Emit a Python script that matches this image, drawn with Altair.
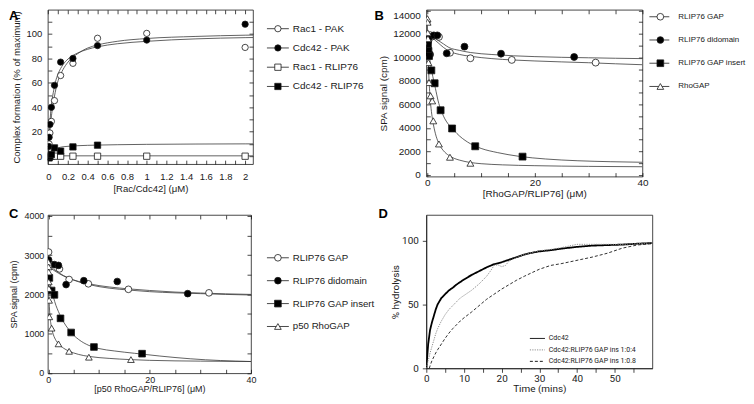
import altair as alt
import pandas as pd

FONT = "Liberation Sans"
DFONT = "Roboto"
INK = "#1a1a1a"
CURVE = "#3a3a3a"

# ---------------- Panel A : complex formation ----------------
A_series = ["Rac1 - PAK", "Cdc42 - PAK", "Rac1 - RLIP76", "Cdc42 - RLIP76"]
A_rac1_pak_x = [0.008, 0.016, 0.031, 0.0625, 0.125, 0.25, 0.5, 1, 2]
A_rac1_pak_y = [10, 19, 28.5, 45.5, 66, 76, 96.5, 100.5, 89]
A_cdc42_pak_x = [0.004, 0.008, 0.016, 0.031, 0.0625, 0.125, 0.25, 0.5, 1, 2]
A_cdc42_pak_y = [8, 15.5, 26, 40, 58, 77, 80, 90.5, 95, 108]
A_rac1_rlip_x = [0.004, 0.008, 0.016, 0.031, 0.0625, 0.125, 0.25, 0.5, 1, 2]
A_rac1_rlip_y = [0, 0, 0, 0, 0, 0, 0, 0, 0, 0]
A_cdc42_rlip_x = [0.004, 0.008, 0.016, 0.031, 0.0625, 0.125, 0.25, 0.5]
A_cdc42_rlip_y = [-1, -1.4, 0, 1.4, 6.8, 4.1, 7.6, 9]

A_fit_x = [0, 0.01, 0.02, 0.04, 0.06, 0.08, 0.1, 0.15, 0.2, 0.3, 0.4, 0.5, 0.7, 1, 1.5, 2, 2.08]
A_fit_rac1_pak = [0, 13, 24, 38, 48, 56, 62, 71, 77, 84, 88.5, 91, 94, 96.3, 98, 99, 99.1]
A_fit_cdc42_pak = [0, 19, 32, 47, 56, 63, 67.5, 75, 79.5, 84.5, 87.5, 89.5, 92, 94, 96, 97, 97.1]
A_fit_cdc42_rlip = [0, 1.5, 2.8, 4.6, 5.7, 6.4, 6.9, 7.7, 8.1, 8.6, 8.9, 9.1, 9.4, 9.7, 9.95, 10.1, 10.1]
A_fit_rac1_rlip_x = [0, 2.08]
A_fit_rac1_rlip = [0.3, 0.3]

A_xticks = [0, 0.1, 0.2, 0.3, 0.4, 0.5, 0.6, 0.7, 0.8, 0.9, 1.0, 1.1, 1.2, 1.3, 1.4, 1.5, 1.6, 1.7, 1.8, 1.9, 2.0]
A_yticks = [0, 10, 20, 30, 40, 50, 60, 70, 80, 90, 100, 110]

# ---------------- Panel B : SPA, RhoGAP / RLIP76 ----------------
B_series = ["RLIP76 GAP", "RLIP76 didomain", "RLIP76 GAP insert", "RhoGAP"]
B_gap_x = [0.1, 0.25, 0.5, 1.0, 2.15, 4.2, 8.0, 15.7, 31.3]
B_gap_y = [11300, 11500, 11900, 11800, 11750, 10400, 9930, 9790, 9560]
B_di_x = [0.1, 0.3, 0.5, 1.2, 1.85, 3.6, 6.9, 13.7, 27.3]
B_di_y = [10400, 11700, 10250, 11880, 11880, 10350, 10920, 10320, 10040]
B_ins_x = [0.1, 0.2, 0.3, 0.74, 1.35, 2.46, 4.6, 8.9, 17.7]
B_ins_y = [11100, 10550, 10120, 8900, 7800, 5500, 3950, 2430, 1550]
B_rho_x = [0.02, 0.04, 0.06, 0.1, 0.2, 0.3, 0.6, 0.9, 1.1, 2.15, 4.2, 8.0]
B_rho_y = [13300, 13000, 12100, 11600, 9560, 7860, 6730, 6300, 4600, 2630, 1500, 990]

B_fit_x = [0, 0.5, 1, 2, 3, 4, 6, 8, 12, 16, 20, 25, 30, 35, 40]
B_fit_gap = [12100, 11900, 11650, 11250, 10850, 10550, 10250, 10100, 9900, 9780, 9700, 9620, 9550, 9460, 9380]
B_fit_di = [12000, 11900, 11750, 11450, 11150, 10850, 10600, 10420, 10250, 10140, 10070, 10010, 9970, 9930, 9900]
B_fit_ins_x = [0, 0.25, 0.5, 1, 1.5, 2, 3, 4, 5, 6, 8, 10, 13, 17, 22, 28, 34, 40]
B_fit_ins = [11600, 10500, 9700, 8400, 7350, 6300, 5000, 4250, 3750, 3300, 2650, 2250, 1900, 1580, 1350, 1200, 1120, 1070]
B_fit_rho_x = [0, 0.1, 0.2, 0.35, 0.5, 0.75, 1, 1.5, 2, 3, 4, 5, 6, 8, 10, 14, 20, 30, 40]
B_fit_rho = [13000, 10800, 9300, 7700, 6600, 5400, 4600, 3500, 2800, 2050, 1650, 1400, 1250, 1050, 950, 850, 780, 720, 690]

B_xticks = [0, 5, 10, 15, 20, 25, 30, 35, 40]
B_yticks = [0, 1000, 2000, 3000, 4000, 5000, 6000, 7000, 8000, 9000, 10000, 11000, 12000, 13000, 14000]

# ---------------- Panel C : SPA, p50 RhoGAP / RLIP76 ----------------
C_series = ["RLIP76 GAP", "RLIP76 didomain", "RLIP76 GAP insert", "p50 RhoGAP"]
C_gap_x = [0.05, 0.5, 2.2, 4.1, 7.9, 15.8, 31.7]
C_gap_y = [3080, 2770, 2650, 2380, 2270, 2130, 2040]
C_di_x = [0.05, 1.2, 2.0, 3.5, 7.0, 13.6, 27.5]
C_di_y = [2880, 2760, 2740, 2250, 2350, 2330, 2020]
C_ins_x = [0.2, 0.65, 1.2, 2.4, 4.5, 9.0, 18.5]
C_ins_y = [2420, 2100, 1990, 1390, 1030, 660, 490]
C_rho_x = [0.02, 0.04, 0.06, 0.08, 0.1, 0.15, 0.2, 0.65, 2.0, 4.1, 8.0, 16.3]
C_rho_y = [2820, 2700, 2570, 2320, 2150, 1850, 1430, 1140, 740, 550, 400, 340]

C_fit_x = [0, 0.5, 1, 2, 3, 4, 6, 8, 12, 16, 20, 25, 30, 35, 40]
C_fit_gap = [2750, 2700, 2650, 2560, 2480, 2420, 2320, 2250, 2160, 2110, 2070, 2040, 2020, 2000, 1985]
C_fit_di = [2700, 2660, 2620, 2540, 2470, 2410, 2330, 2270, 2190, 2140, 2100, 2060, 2035, 2015, 2000]
C_fit_ins_x = [0, 0.25, 0.5, 1, 1.5, 2, 3, 4, 5, 6, 8, 10, 13, 17, 22, 28, 34, 40]
C_fit_ins = [2550, 2350, 2180, 1930, 1720, 1560, 1300, 1110, 960, 850, 700, 620, 560, 500, 430, 360, 315, 290]
C_fit_rho_x = [0, 0.1, 0.2, 0.35, 0.5, 0.75, 1, 1.5, 2, 3, 4, 6, 8, 12, 16, 20, 30, 40]
C_fit_rho = [2650, 2050, 1700, 1400, 1250, 1080, 970, 830, 740, 630, 560, 470, 420, 370, 340, 320, 300, 290]

C_xticks = [0, 5, 10, 15, 20, 25, 30, 35, 40]
C_yticks = [0, 500, 1000, 1500, 2000, 2500, 3000, 3500, 4000]

# ---------------- Panel D : GTP hydrolysis time course ----------------
D_series = ["Cdc42", "Cdc42:RLIP76 GAP ins 1:0:4", "Cdc42:RLIP76 GAP ins 1:0.8"]
D_t_cdc42 = [0, 0.5, 1, 1.5, 2, 2.5, 3, 4, 5, 6, 7, 8, 9, 10, 12, 14, 16, 18, 20, 22, 24, 26, 28, 30, 33, 36, 40, 44, 48, 52, 56, 60]
D_cdc42 = [0, 19, 30, 36, 41, 46, 50, 55, 58, 61, 63, 65.5, 67.5, 69.5, 73, 76, 79, 81.5, 83, 85, 87, 89, 90.4, 91.5, 92.4, 93.7, 95, 96, 96.4, 96.8, 97.5, 98]
D_t_04 = [0, 0.5, 1, 1.5, 2, 2.5, 3, 4, 5, 6, 7, 8, 9, 10, 12, 14, 16, 17, 18, 19, 20, 21, 22, 24, 26, 28, 30, 33, 36, 40, 44, 48, 52, 56, 60]
D_ins04 = [0, 6, 12, 17, 22, 27, 31, 37, 42, 46, 49, 52, 55, 57, 61, 66, 72, 76, 80.5, 81, 79.5, 80.5, 84, 87, 89, 90.5, 92, 93, 94.5, 97, 97, 97, 97, 97.5, 98]
D_t_08 = [0.8, 1, 1.5, 2, 2.5, 3, 4, 5, 6, 7, 8, 9, 10, 12, 14, 16, 18, 20, 22, 24, 26, 28, 30, 33, 36, 40, 44, 48, 52, 56, 60]
D_ins08 = [0, 2, 6, 9, 12, 14.5, 19, 23.5, 27.5, 31, 34, 37, 39.5, 44, 49, 54, 58, 62, 65.5, 69, 72, 74.8, 77.5, 80.5, 82, 84.5, 87, 90, 94, 96.5, 97.5]
D_xticks = [0, 5, 10, 15, 20, 25, 30, 35, 40, 45, 50, 55]
D_yticks = [0, 50, 100]

# ---------------- styles ----------------
SYMBOL = {
    "open circle": ("circle", "white"),
    "filled circle": ("circle", "black"),
    "open square": ("square", "white"),
    "filled square": ("square", "black"),
    "open triangle": ("triangle-up", "white"),
}


def pts(xs, ys, series, sym):
    shape, fill = SYMBOL[sym]
    return pd.DataFrame({"x": xs, "y": ys, "series": series, "shape": shape, "fill": fill})


def fit(xs, ys, series):
    return pd.DataFrame({"x": xs, "y": ys, "series": series})


def box_panel(points, fits, xdom, ydom, w, h, xt, xexpr, yt, yexpr, xtitle, ytitle,
              letter, ldx, ldy, lab_fs, tit_fs, xlp, xtp, ylp, ytp, size,
              yflush=False):
    xs = alt.Scale(domain=xdom, nice=False, zero=False)
    ys = alt.Scale(domain=ydom, nice=False, zero=False)
    common = dict(domain=False, grid=False, tickSize=4, offset=-4, tickColor=INK,
                  tickWidth=0.8, labelFont=FONT, labelFontSize=lab_fs, labelColor=INK,
                  titleFont=FONT, titleFontSize=tit_fs, titleFontWeight="normal",
                  titleColor=INK, labelOverlap=False, minExtent=0)
    ax_b = alt.Axis(orient="bottom", values=xt, labelExpr=xexpr, title=xtitle,
                    labelPadding=xlp, titlePadding=xtp, labelFlush=False, **common)
    ax_l = alt.Axis(orient="left", values=yt, labelExpr=yexpr, title=ytitle,
                    labelPadding=ylp, titlePadding=ytp,
                    labelFlush=(1.2 if yflush else False), **common)
    ax_t = alt.Axis(orient="top", values=xt, labels=False, title=None, **common)
    ax_r = alt.Axis(orient="right", values=yt, labels=False, title=None, **common)

    curves = alt.Chart(fits).mark_line(color=CURVE, strokeWidth=0.8, interpolate="monotone", clip=True).encode(
        x=alt.X("x:Q", scale=xs, axis=ax_b),
        y=alt.Y("y:Q", scale=ys, axis=ax_l),
        detail="series:N",
    )
    ticks = alt.Chart(fits).mark_line(opacity=0, clip=True).encode(
        x=alt.X("x:Q", scale=xs, axis=ax_t),
        y=alt.Y("y:Q", scale=ys, axis=ax_r),
        detail="series:N",
    )
    dots = alt.Chart(points).mark_point(filled=True, stroke=INK, strokeWidth=0.8, size=size,
                                        opacity=1, clip=True).encode(
        x=alt.X("x:Q", scale=xs, axis=None),
        y=alt.Y("y:Q", scale=ys, axis=None),
        shape=alt.Shape("shape:N", scale=None),
        fill=alt.Fill("fill:N", scale=None),
    )
    lab = alt.Chart(pd.DataFrame({"t": [letter]})).mark_text(
        font=FONT, fontSize=13, fontWeight="bold", align="left", baseline="top", color="black"
    ).encode(x=alt.value(ldx), y=alt.value(ldy), text="t:N")
    return alt.layer(curves, ticks, dots, lab).resolve_axis(x="independent", y="independent").properties(
        width=w, height=h)


def legend_cell(labels, syms, yrange, w, h, xline, xsym, xtext, fs, size):
    df = pd.DataFrame({
        "label": labels,
        "shape": [SYMBOL[s][0] for s in syms],
        "fill": [SYMBOL[s][1] for s in syms],
    })
    y = alt.Y("label:N", sort=labels, scale=alt.Scale(type="point", range=yrange, padding=0), axis=None)
    rule = alt.Chart(df).mark_rule(color=INK, strokeWidth=0.8).encode(
        x=alt.value(xline[0]), x2=alt.value(xline[1]), y=y)
    sym = alt.Chart(df).mark_point(filled=True, stroke=INK, strokeWidth=0.8, size=size, opacity=1).encode(
        x=alt.value(xsym), y=y,
        shape=alt.Shape("shape:N", scale=None), fill=alt.Fill("fill:N", scale=None))
    txt = alt.Chart(df).mark_text(align="left", baseline="middle", font=FONT, fontSize=fs, color=INK).encode(
        x=alt.value(xtext), y=y, text="label:N")
    return alt.layer(rule, sym, txt).properties(width=w, height=h, view=alt.ViewBackground(stroke="transparent"))


# ---------------- build panel A ----------------
A_syms = ["open circle", "filled circle", "open square", "filled square"]
A_pts = pd.concat([
    pts(A_rac1_rlip_x, A_rac1_rlip_y, A_series[2], A_syms[2]),
    pts(A_cdc42_rlip_x, A_cdc42_rlip_y, A_series[3], A_syms[3]),
    pts(A_rac1_pak_x, A_rac1_pak_y, A_series[0], A_syms[0]),
    pts(A_cdc42_pak_x, A_cdc42_pak_y, A_series[1], A_syms[1]),
])
A_fits = pd.concat([
    fit(A_fit_x, A_fit_rac1_pak, A_series[0]),
    fit(A_fit_x, A_fit_cdc42_pak, A_series[1]),
    fit(A_fit_rac1_rlip_x, A_fit_rac1_rlip, A_series[2]),
    fit(A_fit_x, A_fit_cdc42_rlip, A_series[3]),
])
panelA = box_panel(
    A_pts, A_fits, [-0.005, 2.08], [-6.5, 119.8], 206, 155,
    A_xticks, "round(datum.value*10) % 2 == 0 ? format(datum.value, '~g') : ''",
    A_yticks, "datum.value % 20 == 0 && datum.value <= 100 ? datum.label : ''",
    "[Rac/Cdc42] (\u03bcM)", "Complex formation (% of maximum)",
    "A", -39, 0, 9.5, 9.6, 7.5, 2, 6, 5, 40)
legA = legend_cell(A_series, A_syms, [19, 77], 118, 150, (12, 34), 23, 38, 10, 40)

# ---------------- build panel B ----------------
B_syms = ["open circle", "filled circle", "filled square", "open triangle"]
B_pts = pd.concat([
    pts(B_gap_x, B_gap_y, B_series[0], B_syms[0]),
    pts(B_di_x, B_di_y, B_series[1], B_syms[1]),
    pts(B_ins_x, B_ins_y, B_series[2], B_syms[2]),
    pts(B_rho_x, B_rho_y, B_series[3], B_syms[3]),
])
B_fits = pd.concat([
    fit(B_fit_x, B_fit_gap, B_series[0]),
    fit(B_fit_x, B_fit_di, B_series[1]),
    fit(B_fit_ins_x, B_fit_ins, B_series[2]),
    fit(B_fit_rho_x, B_fit_rho, B_series[3]),
])
panelB = box_panel(
    B_pts, B_fits, [-0.2, 40], [-150, 14060], 217, 167.5,
    B_xticks, "datum.value % 20 == 0 ? format(datum.value, 'd') : ''",
    B_yticks, "datum.value % 2000 == 0 ? format(datum.value, 'd') : ''",
    "[RhoGAP/RLIP76] (\u03bcM)", "SPA signal (cpm)",
    "B", -52, 0, 10, 10, 1, 0.5, 6, 4.5, 48, yflush=True)
legB = legend_cell(B_series, B_syms, [7, 77], 95, 150, (0, 20), 11, 29, 8, 45)

# ---------------- build panel C ----------------
C_syms = ["open circle", "filled circle", "filled square", "open triangle"]
C_pts = pd.concat([
    pts(C_gap_x, C_gap_y, C_series[0], C_syms[0]),
    pts(C_di_x, C_di_y, C_series[1], C_syms[1]),
    pts(C_ins_x, C_ins_y, C_series[2], C_syms[2]),
    pts(C_rho_x, C_rho_y, C_series[3], C_syms[3]),
])
C_fits = pd.concat([
    fit(C_fit_x, C_fit_gap, C_series[0]),
    fit(C_fit_x, C_fit_di, C_series[1]),
    fit(C_fit_ins_x, C_fit_ins, C_series[2]),
    fit(C_fit_rho_x, C_fit_rho, C_series[3]),
])
panelC = box_panel(
    C_pts, C_fits, [-0.1, 40], [-10, 4025], 204, 159,
    C_xticks, "datum.value % 20 == 0 ? format(datum.value, 'd') : ''",
    C_yticks, "datum.value % 1000 == 0 ? format(datum.value, 'd') : ''",
    "[p50 RhoGAP/RLIP76] (\u03bcM)", "SPA signal (cpm)",
    "C", -39, -7, 9, 9, 2, 0.5, 4, 5, 45)
legC = legend_cell(C_series, C_syms, [43, 112], 119, 150, (9, 31), 20, 35, 9.7, 45)

# ---------------- build panel D ----------------
D_df = pd.concat([
    pd.DataFrame({"t": D_t_cdc42, "v": D_cdc42, "series": D_series[0]}),
    pd.DataFrame({"t": D_t_04, "v": D_ins04, "series": D_series[1]}),
    pd.DataFrame({"t": D_t_08, "v": D_ins08, "series": D_series[2]}),
])
D_color = alt.Color("series:N", scale=alt.Scale(domain=D_series, range=["#000000", "#8c8c8c", "#1a1a1a"]),
                    legend=None)
D_dash = alt.StrokeDash("series:N", scale=alt.Scale(domain=D_series, range=[[1, 0], [1.2, 1.2], [3, 2]]),
                        legend=None)
D_width = alt.StrokeWidth("series:N", scale=alt.Scale(type="ordinal", domain=D_series, range=[1.8, 1.0, 0.9]),
                          legend=None)
D_axis_common = dict(grid=False, tickSize=4, tickColor=INK, tickWidth=0.8, domainColor=INK,
                     domainWidth=0.8, labelFont=DFONT, labelFontSize=10, labelColor=INK,
                     titleFont=DFONT, titleFontSize=10, titleFontWeight="normal", titleColor=INK,
                     labelOverlap=False, labelFlush=False, minExtent=0)
D_lines = alt.Chart(D_df).mark_line(clip=True).encode(
    x=alt.X("t:Q", scale=alt.Scale(domain=[0, 60], nice=False, zero=False),
            axis=alt.Axis(values=D_xticks, labelExpr="datum.value % 10 == 0 ? datum.label : ''",
                          title="Time (mins)", labelPadding=1, titlePadding=0, **D_axis_common)),
    y=alt.Y("v:Q", scale=alt.Scale(domain=[0, 120], nice=False, zero=False),
            axis=alt.Axis(values=D_yticks, title="% hydrolysis", labelPadding=4, titlePadding=1,
                          **D_axis_common)),
    color=D_color, strokeDash=D_dash, strokeWidth=D_width,
)
D_leg_df = pd.DataFrame({"series": D_series})
D_leg_y = alt.Y("series:N", sort=D_series, scale=alt.Scale(type="point", range=[124, 147], padding=0), axis=None)
D_leg_rule = alt.Chart(D_leg_df).mark_rule().encode(
    x=alt.value(104), x2=alt.value(119), y=D_leg_y, color=D_color, strokeDash=D_dash,
    strokeWidth=alt.value(1))
D_leg_text = alt.Chart(D_leg_df).mark_text(align="left", baseline="middle", font=DFONT, fontSize=7,
                                           color=INK).encode(
    x=alt.value(123), y=D_leg_y, text="series:N")
D_lab = alt.Chart(pd.DataFrame({"t": ["D"]})).mark_text(
    font=FONT, fontSize=13, fontWeight="bold", align="left", baseline="top", color="black"
).encode(x=alt.value(-48), y=alt.value(-7), text="t:N")
panelD = alt.layer(D_lines, D_leg_rule, D_leg_text, D_lab).resolve_scale(y="independent").properties(
    width=227, height=154)

row1 = alt.hconcat(panelA, legA, panelB, legB, spacing=0)
row2 = alt.hconcat(panelC, legC, panelD, spacing=0)
chart = alt.vconcat(row1, row2, spacing=8).properties(padding=0).configure_view(
    stroke=INK, strokeWidth=0.8)

chart.save("out.html", embed_options={"renderer": "svg", "actions": False})
